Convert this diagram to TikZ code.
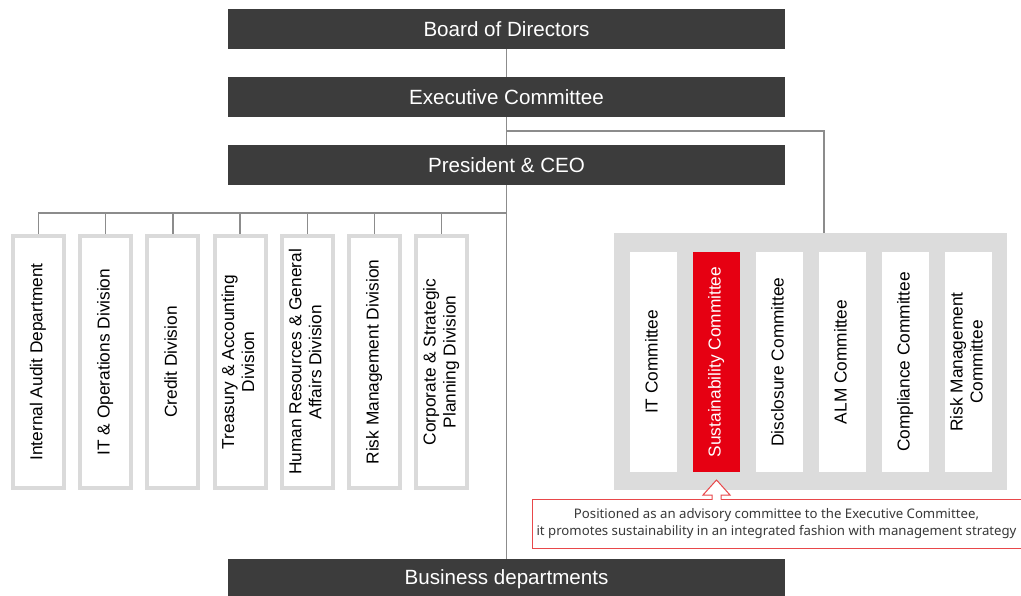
\documentclass[tikz,border=0pt]{standalone}
\usepackage{fontspec}
\setmainfont{Liberation Sans}
\newfontfamily\notofont{Noto Sans}
\usetikzlibrary{backgrounds}
\definecolor{barcol}{HTML}{3C3C3C}
\definecolor{linecol}{HTML}{8C8C8C}
\definecolor{panelgrey}{HTML}{DCDCDC}
\definecolor{boxgrey}{HTML}{DADADA}
\definecolor{redfill}{HTML}{E60012}
\definecolor{redline}{HTML}{E8474A}
\definecolor{calltext}{HTML}{383838}
\tikzset{
  bar/.style={fill=barcol, text=white, minimum width=557pt, minimum height=40pt, inner sep=0pt, font=\fontsize{20.6}{24}\selectfont},
  dept/.style={draw=boxgrey, line width=4pt, fill=white, minimum width=51pt, minimum height=252pt, inner sep=0pt, font=\fontsize{17.3}{20}\selectfont},
  comm/.style={fill=white, minimum width=47pt, minimum height=220pt, inner sep=0pt, font=\fontsize{17.3}{20}\selectfont},
  commred/.style={comm, fill=redfill, text=white},
  conn/.style={draw=linecol, line width=1.4pt},
}
\newcommand{\vt}[1]{\rotatebox{90}{\begin{tabular}{@{}c@{}}#1\end{tabular}}}
\begin{document}
\begin{tikzpicture}[x=1pt,y=-1pt]
\useasboundingbox (0,0) rectangle (1021,596);
% bars
\node[bar] (board) at (506.5,29) {Board of Directors};
\node[bar] (exec) at (506.5,97) {Executive Committee};
\node[bar] (pres) at (506.5,165) {President \& CEO};
\node[bar] (biz) at (506.5,579) {Business departments};
% departments
\node[dept] (d1) at (38.5,362) {\vt{Internal Audit Department}};
\node[dept] (d2) at (105.7,362) {\vt{IT \& Operations Division}};
\node[dept] (d3) at (172.9,362) {\vt{Credit Division}};
\node[dept] (d4) at (240.1,362) {\vt{Treasury \& Accounting\\Division}};
\node[dept] (d5) at (307.3,362) {\vt{Human Resources \& General\\Affairs Division}};
\node[dept] (d6) at (374.5,362) {\vt{Risk Management Division}};
\node[dept] (d7) at (441.7,362) {\vt{Corporate \& Strategic\\Planning Division}};
% committee panel
\node[fill=panelgrey, minimum width=393pt, minimum height=257pt, inner sep=0pt] (panel) at (810.5,361.5) {};
\node[comm] (c1) at (653.5,362) {\vt{IT Committee}};
\node[commred] (c2) at (716.5,362) {\vt{Sustainability Committee}};
\node[comm] (c3) at (779.5,362) {\vt{Disclosure Committee}};
\node[comm] (c4) at (842.5,362) {\vt{ALM Committee}};
\node[comm] (c5) at (905.5,362) {\vt{Compliance Committee}};
\node[comm] (c6) at (968.5,362) {\vt{Risk Management\\Committee}};
% callout
\node[draw=redline, line width=1pt, fill=white, minimum width=489pt, minimum height=49pt, inner sep=0pt, align=center, text=calltext, font=\notofont\fontsize{13.2}{17.5}\selectfont] (call) at (776.5,523.5)
  {Positioned as an advisory committee to the Executive Committee,\\it promotes sustainability in an integrated fashion with management strategy};
\fill[white] (712.5,495) rectangle (720.5,500);
\draw[redline, line width=1pt, fill=white] (712,499.5) -- (712,495) -- (703,495) -- (716.5,480) -- (730,495) -- (721,495) -- (721,499.5);
% connectors
\coordinate (br) at (506.5,131);
\coordinate (ptop) at (824,233);
\coordinate (lh) at (506.5,213);
\begin{scope}[on background layer]
\draw[conn] (board.south) -- (exec.north);
\draw[conn] (exec.south) -- (pres.north);
\draw[conn] (pres.south) -- (biz.north);
\draw[conn] (br) -| (ptop);
\foreach \d in {d1,d2,d3,d4,d5,d6,d7} { \draw[conn] (lh) -| (\d.north); }
\end{scope}
\end{tikzpicture}
\end{document}
